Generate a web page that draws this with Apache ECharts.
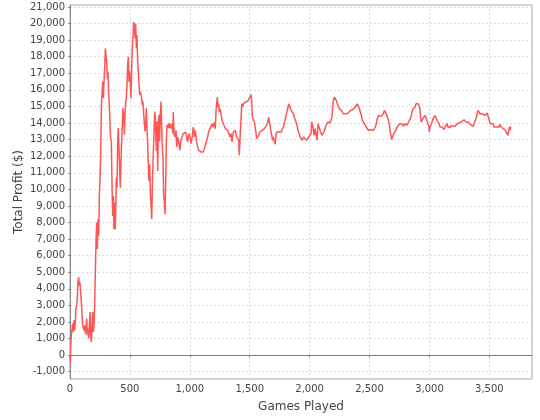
<!DOCTYPE html>
<html>
<head>
<meta charset="utf-8">
<script src="https://cdn.jsdelivr.net/npm/echarts@6/dist/echarts.min.js"></script>
<style>
html,body{margin:0;padding:0;background:#fff;}
#chart{width:540px;height:420px;}
</style>
</head>
<body>
<div id="chart"></div>
<script>
const xTicks = [0, 500, 1000, 1500, 2000, 2500, 3000, 3500];
const yTicks = [-1000, 0, 1000, 2000, 3000, 4000, 5000, 6000, 7000, 8000, 9000, 10000, 11000, 12000, 13000, 14000, 15000, 16000, 17000, 18000, 19000, 20000, 21000];

const games = [
0,3,6,11,17,22,28,33,39,45,50,56,61,67,72,78,83,89,95,100,106,111,117,122,128,134,139,145,150,156,161,167,172,178,184,189,195,200,206,211,217,223,228,234,239,245,250,256,262,267,273,278,284,289,295,300,306,312,317,323,328,334,339,345,351,356,362,367,373,378,
381,387,392,398,403,409,415,420,426,431,437,442,448,454,459,465,470,476,481,487,492,498,504,509,515,520,526,531,537,543,548,554,559,565,570,576,582,587,593,598,604,609,615,620,626,632,637,643,648,654,659,665,671,676,682,687,693,698,704,709,715,721,726,732,737,743,748,754,760,765,771,776,782,787,793,799,804,810,815,821,826,832,837,
843,851,859,862,868,876,885,890,899,907,918,926,935,946,954,963,974,982,991,1002,1010,1018,1029,1038,1046,1057,1066,1074,1085,1093,1102,1113,1121,1130,1141,1149,1157,1169,1177,1185,1196,1205,1213,1219,1224,1230,1235,1241,1247,1252,1260,1269,1280,1288,1297,1308,1316,1324,1336,1344,1352,1363,1372,1380,1391,1399,1408,1413,1419,1427,1433,1441,1447,1455,
1464,1475,1483,1491,1502,1511,1516,1522,1530,1539,1547,1553,1558,1567,1575,1586,1594,1603,1614,1622,1631,1642,1650,1658,1664,1669,1678,1683,1692,1697,1706,1714,1719,1725,1733,1742,1753,1761,1770,1781,1789,1798,1809,1817,1825,1831,1836,1845,1853,1864,1872,1881,1892,1900,1909,1920,1928,1937,1948,1956,1964,1976,1984,1992,2003,2012,2017,2026,
2037,2045,2053,2062,2070,2078,2087,2095,2103,2112,2120,2128,2137,2145,2153,2162,2170,2178,2187,2192,2198,2206,2215,2223,2231,2240,2248,2256,2265,2273,2281,2290,2298,2306,2315,2323,2331,2340,2348,2357,2365,2373,2382,2390,2398,2407,2415,2423,2432,2440,2448,2457,2465,2473,2482,2490,2498,2507,2515,2523,2532,2540,2548,2557,2565,2574,2582,2590,2599,2607,2615,2624,2632,2640,2649,2657,2665,2671,2679,2685,2693,2701,2710,2718,2727,2735,2743,2751,2760,2768,2776,2785,2793,2801,2810,2818,2826,2835,
2838,2846,2855,2863,2871,2880,2888,2896,2905,2913,2919,2924,2930,2938,2946,2955,2963,2971,2980,2988,2997,2999,3005,3013,3022,3030,3038,3047,3055,3063,3072,3080,3088,3097,3105,3113,3122,3130,3138,3147,3155,3163,3172,3180,3188,3197,3205,3214,3222,3230,3239,3247,3255,3264,3272,3280,3289,3297,3305,3314,3322,3330,3339,3347,3355,3364,3372,3380,3389,3397,3405,3414,3422,3430,3439,3447,3455,3464,3472,3481,3489,3497,3506,3514,3522,3531,3539,3547,3556,3564,3572,3581,3589,3597,3606,3614,3622,3631,3639,3648,3656,3661,3667,3672,3679
];

const profit = [
0,-450,500,1200,1600,1900,1400,2100,1500,2000,2800,3000,3500,4400,4700,4200,4400,3800,3200,2400,1800,1900,1500,1800,1300,1600,2200,1200,1600,1000,1700,2600,1200,800,1700,2600,1400,1800,3200,4800,6800,8000,6400,8200,7200,9600,10600,12000,15100,15700,16500,15500,16500,17300,18500,18100,17700,16700,17100,15700,15100,13900,13100,12900,10200,8400,9600,7600,9200,7600,
8700,10700,10100,12900,13700,12500,11100,10100,11700,12900,13900,14900,14500,13300,14500,15300,15500,16300,17500,18000,16500,17100,16300,15500,17300,18500,19300,20100,19700,19100,20000,18500,19300,17700,17100,16300,15700,15900,15700,15500,15100,15300,14500,14100,13500,13900,14900,13500,12900,11300,10500,11500,9700,9100,8200,10100,11700,12700,14100,14700,13500,12300,14100,11100,13900,14500,12900,14500,15300,13900,12500,11900,9500,9300,8500,10500,12900,13900,13900,13700,14000,13700,13900,
13660,13960,13360,14660,13360,13160,13560,12560,13160,12860,12360,12960,13160,13360,13260,13460,13160,12860,13360,13160,12760,13060,13760,13160,13560,12860,12560,12360,12460,12260,12360,12260,12360,12660,12960,13160,13460,13660,13560,13960,13760,14060,13660,14760,15160,15560,14960,15160,14660,14860,14560,14160,13960,13860,13660,13560,13560,13460,13160,13360,12860,13460,13360,13560,13160,13060,12960,12060,13060,14160,15160,14960,15160,15200,
15260,15200,15320,15260,15560,15720,15360,14360,14260,14060,13660,13360,13060,13160,13260,13460,13360,13560,13600,13660,13760,13860,14060,14360,14060,13860,13760,13260,12960,13160,12860,12720,13260,13460,13360,13460,13360,13460,13600,13760,13960,14060,14660,14860,15160,15060,14960,14760,14860,14560,14460,14160,13960,13660,13560,13160,13260,12960,13160,13060,13160,12960,13060,13160,13060,13360,14060,13860,
13260,13660,13360,12960,13960,13760,13560,13660,13260,13360,13460,13460,13860,13960,14060,13960,14000,14160,14360,14960,15360,15560,15460,15360,15160,15060,14860,14960,14760,14660,14560,14460,14560,14600,14560,14660,14660,14760,14660,14800,14720,14860,14960,14960,15160,15160,14860,14660,14460,14160,14060,13960,13860,13760,13660,13560,13660,13600,13520,13600,13560,13660,13760,13960,14260,14460,14360,14460,14400,14460,14560,14760,14800,14560,14360,14160,13960,13560,13260,13000,13160,13360,13460,13560,13660,13800,13860,13960,13860,13960,13860,13800,13960,13920,13860,13960,14060,14160,
14160,14360,14660,14860,14800,14960,15160,15260,15160,15260,14960,14460,14060,13960,14260,14360,14460,14360,14160,13960,13760,13460,13760,13860,14060,14260,14360,14460,14360,14160,14060,13960,13760,13860,13760,13660,13600,13760,13860,13960,13760,13800,13720,13860,13760,13800,13860,13800,13920,13960,14060,14000,14120,14060,14160,14060,14200,14120,14060,13960,14060,14000,13920,14000,13860,13800,13960,14060,14260,14560,14760,14720,14560,14460,14560,14460,14520,14460,14560,14600,14520,14260,13960,14060,13860,13960,13760,13660,13760,13800,13860,13760,13920,13760,13800,13660,13560,13600,13460,13400,13260,13160,13760,13560,13800
];

const seriesData = games.map((g, i) => [g, profit[i]]);
const fmt = v => Number(v).toLocaleString('en-US');
const FONT = 'DejaVu Sans';

const chart = echarts.init(document.getElementById('chart'), null, {renderer: 'canvas'});
chart.setOption({
  animation: false,
  backgroundColor: '#ffffff',
  grid: {left: 70, right: 8, top: 5, bottom: 41, show: true, borderColor: '#a8a8a8', borderWidth: 1, backgroundColor: '#ffffff', containLabel: false, outerBoundsMode: 'none'},
  xAxis: {
    type: 'value', min: 0, max: 3856,
    name: 'Games Played', nameLocation: 'middle', nameGap: 22, nameMoveOverlap: false,
    nameTextStyle: {fontFamily: FONT, fontSize: 12, color: '#444444'},
    axisLine: {show: true, lineStyle: {color: '#888888', width: 1}},
    axisTick: {show: true, length: 2, inside: false, customValues: xTicks, lineStyle: {color: '#888888'}},
    axisLabel: {customValues: xTicks, formatter: fmt, fontFamily: FONT, fontSize: 10, color: '#444444', margin: 5},
    splitLine: {show: true, lineStyle: {color: '#dcdcdc', type: [2, 2], width: 1}}
  },
  yAxis: {
    type: 'value', min: -1440, max: 21120,
    name: 'Total Profit ($)', nameLocation: 'middle', nameGap: 45, nameMoveOverlap: false,
    nameTextStyle: {fontFamily: FONT, fontSize: 12, color: '#444444'},
    axisLine: {show: true, lineStyle: {color: '#888888', width: 1}},
    axisTick: {show: true, length: 2, inside: false, customValues: yTicks, lineStyle: {color: '#888888'}},
    axisLabel: {customValues: yTicks, formatter: fmt, fontFamily: FONT, fontSize: 10, color: '#444444', margin: 5},
    splitLine: {show: true, lineStyle: {color: '#dcdcdc', type: [2, 2], width: 1}}
  },
  series: [{
    type: 'line',
    data: seriesData,
    showSymbol: false,
    symbol: 'none',
    lineStyle: {color: '#ff5555', width: 1.5},
    itemStyle: {color: '#ff5555'},
    silent: true,
    markLine: {
      silent: true, symbol: 'none', animation: false,
      label: {show: false},
      lineStyle: {color: '#6a6ad8', type: [2, 2], width: 1},
      data: [{yAxis: 0}]
    }
  }]
});
</script>
</body>
</html>
